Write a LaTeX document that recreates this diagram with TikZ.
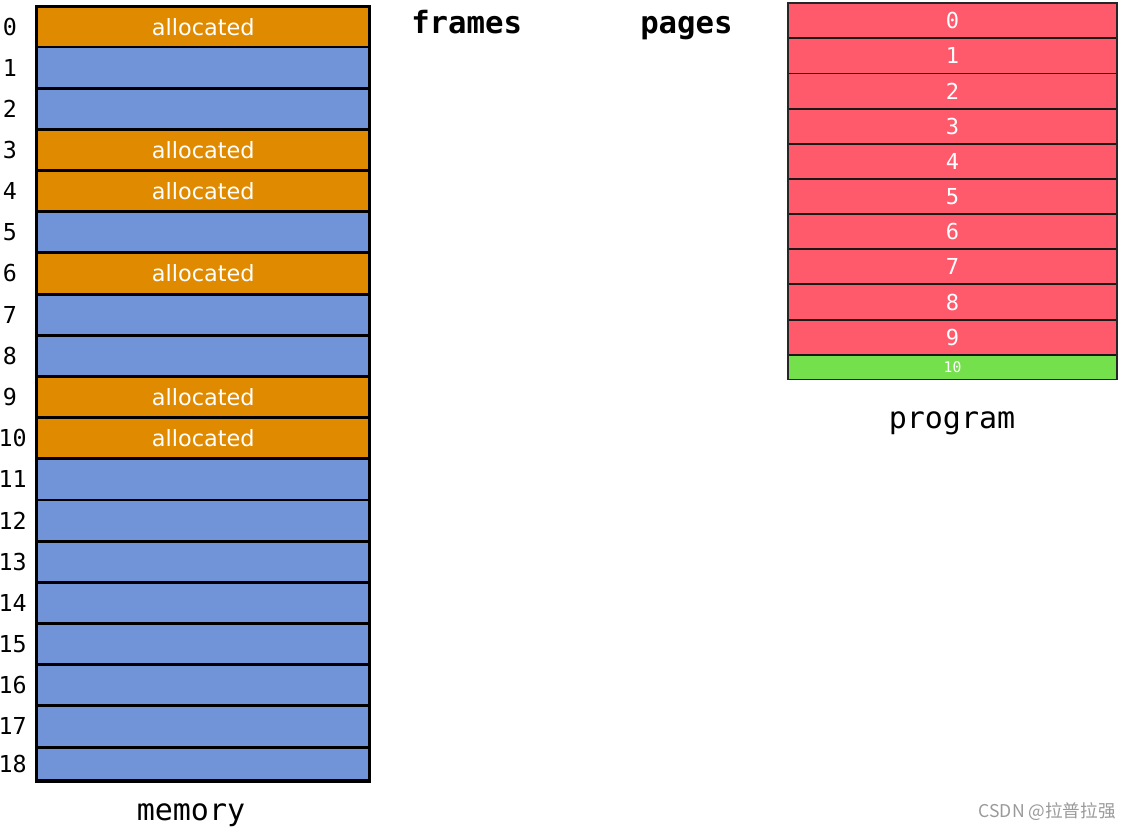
\documentclass[tikz,border=0pt]{standalone}
\usepackage{fontspec}
\setmainfont{DejaVu Sans}
\setmonofont{DejaVu Sans Mono}
\newfontfamily\cjkfont{Noto Sans CJK SC}
\definecolor{allocc}{HTML}{E08A00}
\definecolor{freec}{HTML}{7193D8}
\definecolor{pagec}{HTML}{FF5A6C}
\definecolor{lastc}{HTML}{74E14C}
\definecolor{wmc}{HTML}{9A9A9A}
\tikzset{
  memcell/.style={draw=black, line width=2.2pt, minimum width=249.75pt, inner sep=0pt, outer sep=0pt,
    text=white, font=\fontsize{16.8}{17}\selectfont},
  pagecell/.style={draw=black!90, line width=1.4pt, minimum width=246.75pt, inner sep=0pt, outer sep=0pt,
    text=white, font=\ttfamily\fontsize{16.5}{17}\selectfont},
  idx/.style={inner sep=0pt, font=\ttfamily\fontsize{17.5}{18}\selectfont},
  hdr/.style={inner sep=0pt, font=\ttfamily\bfseries\fontsize{23}{24}\selectfont},
  captxt/.style={inner sep=0pt, font=\ttfamily\fontsize{22.5}{24}\selectfont},
}
\begin{document}
\begin{tikzpicture}[x=0.75pt,y=-0.75pt]
\path[use as bounding box, fill=white] (0,0) rectangle (1131,830);
% memory cells
\foreach \i/\c/\txt in {0/allocc/allocated,1/freec/{},2/freec/{},3/allocc/allocated,4/allocc/allocated,
  5/freec/{},6/allocc/allocated,7/freec/{},8/freec/{},9/allocc/allocated,10/allocc/allocated,
  11/freec/{},12/freec/{},13/freec/{},14/freec/{},15/freec/{},16/freec/{},17/freec/{},18/freec/{}}{
  \pgfmathsetmacro\tp{ifthenelse(\i==0,6.5,47+41.18*(\i-1))}
  \pgfmathsetmacro\bt{ifthenelse(\i==18,781,47+41.18*\i)}
  \pgfmathsetmacro\md{(\tp+\bt)/2}
  \pgfmathsetmacro\hh{(\bt-\tp)*0.75}
  \node[memcell, fill=\c, minimum height=\hh pt] (m\i) at (203.25,\md) {\txt};
  \ifnum\i<10
    \node[idx] (l\i) at (10,\md) {\i};
  \else
    \node[idx, anchor=east] (l\i) at (27,\md) {\i};
  \fi
}
\draw[line width=2.5pt] (m0.north west) rectangle (m18.south east);
% headers
\node[hdr, anchor=base west] (frames) at (411,34) {frames};
\node[hdr, anchor=base west] (pages) at (640,33.5) {pages};
% program pages
\foreach \i in {0,...,10}{
  \pgfmathsetmacro\tp{ifthenelse(\i==0,3,38.3+35.16*(\i-1))}
  \pgfmathsetmacro\bt{ifthenelse(\i==10,379.5,38.3+35.16*\i)}
  \pgfmathsetmacro\md{(\tp+\bt)/2}
  \pgfmathsetmacro\hh{(\bt-\tp)*0.75}
  \ifnum\i<10
    \node[pagecell, fill=pagec, minimum height=\hh pt] (p\i) at (952.5,\md) {\i};
  \else
    \node[pagecell, fill=lastc, minimum height=\hh pt, font=\ttfamily\fontsize{11}{12}\selectfont] (p\i) at (952.5,\md) {\i};
  \fi
}
\draw[line width=1.1pt, black!85] (p0.north west) rectangle (p10.south east);
% captions
\node[captxt, anchor=base] (program) at (952,428) {program};
\node[captxt, anchor=base] (memory) at (191,820) {memory};
% watermark
\node[anchor=base east, inner sep=0pt, text=wmc, font=\cjkfont\fontsize{13.2}{14}\selectfont] (wm) at (1116,817) {CSDN @拉普拉强};
\end{tikzpicture}
\end{document}
